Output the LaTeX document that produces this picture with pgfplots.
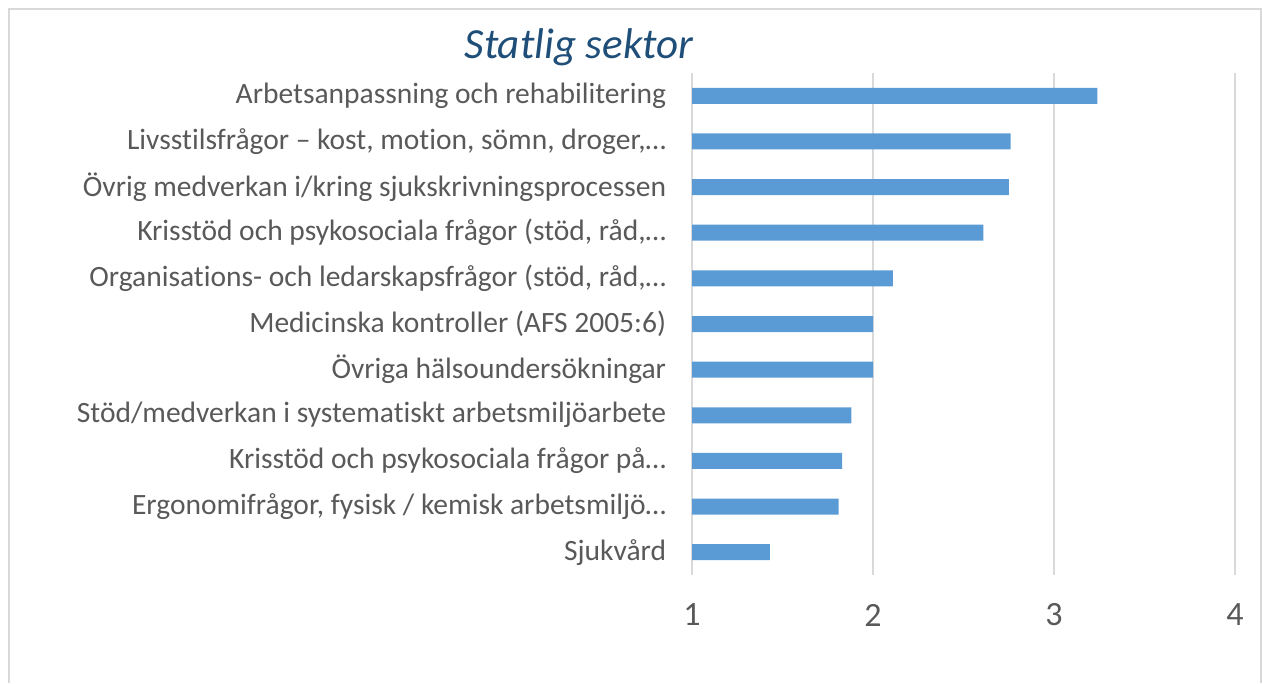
\documentclass[border=0pt]{standalone}
\usepackage{fontspec}
\setmainfont{Carlito}[Ligatures=NoCommon]
\usepackage{pgfplots}
\pgfplotsset{compat=1.18}
\definecolor{barblue}{HTML}{5B9BD5}
\definecolor{labelgray}{HTML}{595959}
\definecolor{titleblue}{HTML}{1F4E79}
\definecolor{gridgray}{HTML}{D9D9D9}
\begin{document}
\begin{tikzpicture}[x=1pt,y=1pt]
% page size: 1 px of the reference = 0.5pt
\path (0,0) rectangle (631,341.5);
\draw[gridgray, line width=1pt] (4.5,0) -- (4.5,337) -- (630.5,337) -- (630.5,0);
\node[titleblue, font=\fontsize{21.5}{24}\selectfont\itshape] at (289.5,318) {Statlig sektor};
\begin{axis}[
  at={(346pt,54pt)}, anchor=south west,
  scale only axis, width=271.5pt, height=251pt,
  xbar, bar width=8pt,
  xmin=1, xmax=4, ymin=-0.5, ymax=10.5, y dir=reverse,
  xtick={1,2,3,4},
  ytick={0,...,10},
  yticklabels={
    {Arbetsanpassning och rehabilitering},
    {Livsstilsfrågor – kost, motion, sömn, droger,…},
    {Övrig medverkan i/kring sjukskrivningsprocessen},
    {Krisstöd och psykosociala frågor (stöd, råd,…},
    {Organisations- och ledarskapsfrågor (stöd, råd,…},
    {Medicinska kontroller (AFS 2005:6)},
    {Övriga hälsoundersökningar},
    {Stöd/medverkan i systematiskt arbetsmiljöarbete},
    {Krisstöd och psykosociala frågor på…},
    {Ergonomifrågor, fysisk / kemisk arbetsmiljö…},
    {Sjukvård}},
  axis line style={draw=none},
  tick style={draw=none},
  xmajorgrids, grid style={gridgray, line width=1pt},
  /pgf/number format/assume math mode=true,
  yticklabel style={anchor=east, inner sep=0pt, xshift=-8.5pt,
    font=\fontsize{14.75}{17}\selectfont, text=labelgray},
  xticklabel style={anchor=center, inner sep=0pt, yshift=-20pt,
    font=\fontsize{17}{19}\selectfont, text=labelgray},
]
\addplot[fill=barblue, draw=none] coordinates {
  (3.24,0) (2.76,1) (2.75,2) (2.61,3) (2.11,4) (2.00,5)
  (2.00,6) (1.88,7) (1.83,8) (1.81,9) (1.43,10)
};
\end{axis}
\end{tikzpicture}
\end{document}
